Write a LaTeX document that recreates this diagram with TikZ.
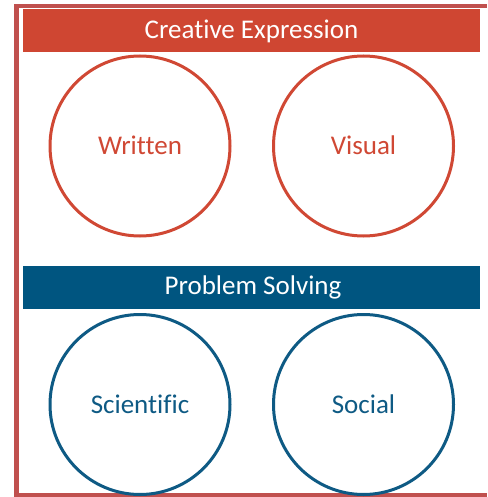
\documentclass[tikz,border=0pt]{standalone}
\usepackage{fontspec}
\setmainfont{Carlito}[Ligatures=NoCommon]
\definecolor{framered}{RGB}{192,80,78}
\definecolor{barred}{RGB}{207,70,50}
\definecolor{circred}{RGB}{208,72,52}
\definecolor{barblue}{RGB}{0,85,128}
\definecolor{circblue}{RGB}{14,90,132}
\begin{document}
\begin{tikzpicture}[x=1pt,y=-1pt,
  frame/.style={fill=framered,draw=none},
  bar/.style={draw=none,minimum width=457pt,minimum height=43pt,inner sep=0pt},
  bartext/.style={text=white,font=\fontsize{27}{30}\selectfont,text height=17.4pt,text depth=0pt,inner sep=0pt},
  ring/.style={circle,line width=3pt,minimum size=180pt,inner sep=0pt,
    font=\fontsize{27}{30}\selectfont,text height=17.4pt,text depth=0pt},
  redring/.style={ring,draw=circred,text=circred},
  bluering/.style={ring,draw=circblue,text=circblue}]
\useasboundingbox (0,0) rectangle (487,497);
\fill[white] (0,0) rectangle (487,497);
\fill[frame] (14,4) rectangle (487,8.2);
\fill[frame] (14,4) rectangle (19,497);
\fill[frame] (14,492.8) rectangle (487,497);
\node[bar,fill=barred] (ce) at (251.5,30.5) {};
\node[bartext] (cet) at (251.5,29.5) {Creative Expression};
\node[bar,fill=barblue] (ps) at (251.5,287) {};
\node[bartext] (pst) at (253,285.5) {Problem Solving};
\node[redring] (written) at (140,146) {Written};
\node[redring] (visual) at (363.5,146) {Visual};
\node[bluering] (scientific) at (140,404.5) {Scientific};
\node[bluering] (social) at (363.5,404.5) {Social};
\end{tikzpicture}
\end{document}
